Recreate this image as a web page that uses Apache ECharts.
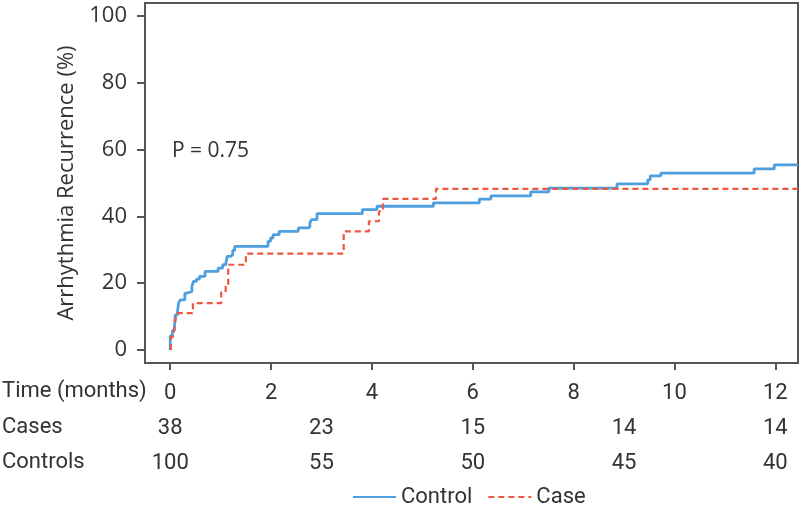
<!DOCTYPE html>
<html>
<head>
<meta charset="utf-8">
<script src="https://cdn.jsdelivr.net/npm/echarts@6/dist/echarts.min.js"></script>
<style>
html,body{margin:0;padding:0;background:#fff;}
#chart{width:800px;height:507px;}
</style>
</head>
<body>
<div id="chart"></div>
<script>
// ---- data ----
const controlTimes  = [0, 0, 0.045, 0.085, 0.10, 0.145, 0.165, 0.20, 0.29, 0.33, 0.43, 0.46, 0.52, 0.58, 0.69, 0.95, 1.04, 1.10, 1.13, 1.20, 1.24, 1.28, 1.94, 1.99, 2.04, 2.16, 2.54, 2.73, 2.77, 2.80, 2.91, 3.81, 4.10, 5.22, 6.13, 6.36, 7.15, 7.51, 8.86, 9.47, 9.52, 9.73, 11.58, 11.98, 12.45];
const controlValues = [0, 4.2, 5.8, 7, 10.5, 11.5, 14, 15, 17, 17.5, 19, 20.5, 21.2, 22, 23.5, 24.5, 25.5, 25.8, 28, 28.5, 29.8, 31, 32.5, 33.5, 34.5, 35.5, 36.5, 36.8, 38, 39, 40.8, 42, 43, 44, 45.1, 46.1, 47.3, 48.4, 49.7, 50.9, 52.1, 52.9, 54.2, 55.4, 55.4];
const caseTimes  = [0.01, 0.02, 0.07, 0.10, 0.12, 0.45, 1.01, 1.10, 1.15, 1.50, 3.44, 3.94, 4.14, 4.22, 5.27, 12.45];
const caseValues = [0, 4, 6, 8.5, 11, 14, 17.2, 19.5, 25.5, 28.8, 35.5, 38.5, 41.5, 45.2, 48.2, 48.2];

const xTicks = [0, 2, 4, 6, 8, 10, 12];
const yTicks = [0, 20, 40, 60, 80, 100];
const riskTimes = [0, 3, 6, 9, 12];
const casesAtRisk = [38, 23, 15, 14, 14];
const controlsAtRisk = [100, 55, 50, 45, 40];
const rowLabels = ['Time (months)', 'Cases', 'Controls'];
const seriesNames = ['Control', 'Case'];
const pValueText = 'P = 0.75';
const yTitle = 'Arrhythmia Recurrence (%)';

// ---- chart ----
const chart = echarts.init(document.getElementById('chart'), null, {renderer: 'canvas'});
const txt = '#333333';
const axisCol = '#555555';
const fontY = 'Open Sans';
const fontB = 'Roboto';
const blue = '#4d9fe0';
const red = '#ef5640';

function riskAxis(offset, values) {
  return {
    type: 'value', gridIndex: 0, position: 'bottom', offset: offset,
    min: -0.5, max: 12.45,
    axisLine: {show: false, onZero: false}, axisTick: {show: false}, splitLine: {show: false},
    axisLabel: {
      customValues: riskTimes, margin: 19, color: txt, fontFamily: fontB, fontSize: 22,
      formatter: v => { const i = riskTimes.indexOf(v); return i >= 0 ? String(values[i]) : ''; }
    }
  };
}

const option = {
  animation: false,
  backgroundColor: '#ffffff',
  grid: {left: 145, right: 2, top: 3, bottom: 144, show: true, borderColor: axisCol, borderWidth: 2, backgroundColor: 'transparent'},
  xAxis: [
    {
      type: 'value', min: -0.5, max: 12.45,
      axisLine: {show: true, onZero: false, lineStyle: {color: axisCol, width: 2}},
      axisTick: {show: true, customValues: xTicks, length: 7, lineStyle: {color: axisCol, width: 2}},
      axisLabel: {customValues: xTicks, margin: 19, color: txt, fontFamily: fontB, fontSize: 22},
      splitLine: {show: false}
    },
    riskAxis(35, casesAtRisk),
    riskAxis(70, controlsAtRisk)
  ],
  yAxis: {
    type: 'value', min: -3.9, max: 103.8,
    name: yTitle, nameLocation: 'middle', nameGap: 67,
    nameTextStyle: {color: txt, fontFamily: fontY, fontSize: 22},
    axisLine: {show: true, onZero: false, lineStyle: {color: axisCol, width: 2}},
    axisTick: {show: true, customValues: yTicks, length: 8, lineStyle: {color: axisCol, width: 2}},
    axisLabel: {customValues: yTicks, margin: 18, color: txt, fontFamily: fontY, fontSize: 22},
    splitLine: {show: false}
  },
  legend: {
    data: seriesNames, left: 347, top: 481, itemWidth: 43, itemHeight: 14, itemGap: 15,
    itemStyle: {opacity: 0},
    textStyle: {color: txt, fontFamily: fontB, fontSize: 22}
  },
  graphic: [
    {type: 'text', left: 2, top: 380, style: {text: rowLabels[0], fill: txt, font: '22px ' + fontB}},
    {type: 'text', left: 2, top: 416, style: {text: rowLabels[1], fill: txt, font: '22px ' + fontB}},
    {type: 'text', left: 2, top: 451, style: {text: rowLabels[2], fill: txt, font: '22px ' + fontB}},
    {type: 'text', left: 172, top: 141, style: {text: pValueText, fill: txt, font: '21px ' + fontY}}
  ],
  series: [
    {
      name: seriesNames[0], type: 'line', step: 'end', symbol: 'none', xAxisIndex: 0,
      data: controlTimes.map((t, i) => [t, controlValues[i]]),
      lineStyle: {color: blue, width: 2.8}, itemStyle: {color: blue}, z: 2
    },
    {
      name: seriesNames[1], type: 'line', step: 'end', symbol: 'none', xAxisIndex: 0,
      data: caseTimes.map((t, i) => [t, caseValues[i]]),
      lineStyle: {color: red, width: 2.2, type: [6, 4]}, itemStyle: {color: red}, z: 3
    }
  ]
};
chart.setOption(option);
</script>
</body>
</html>
